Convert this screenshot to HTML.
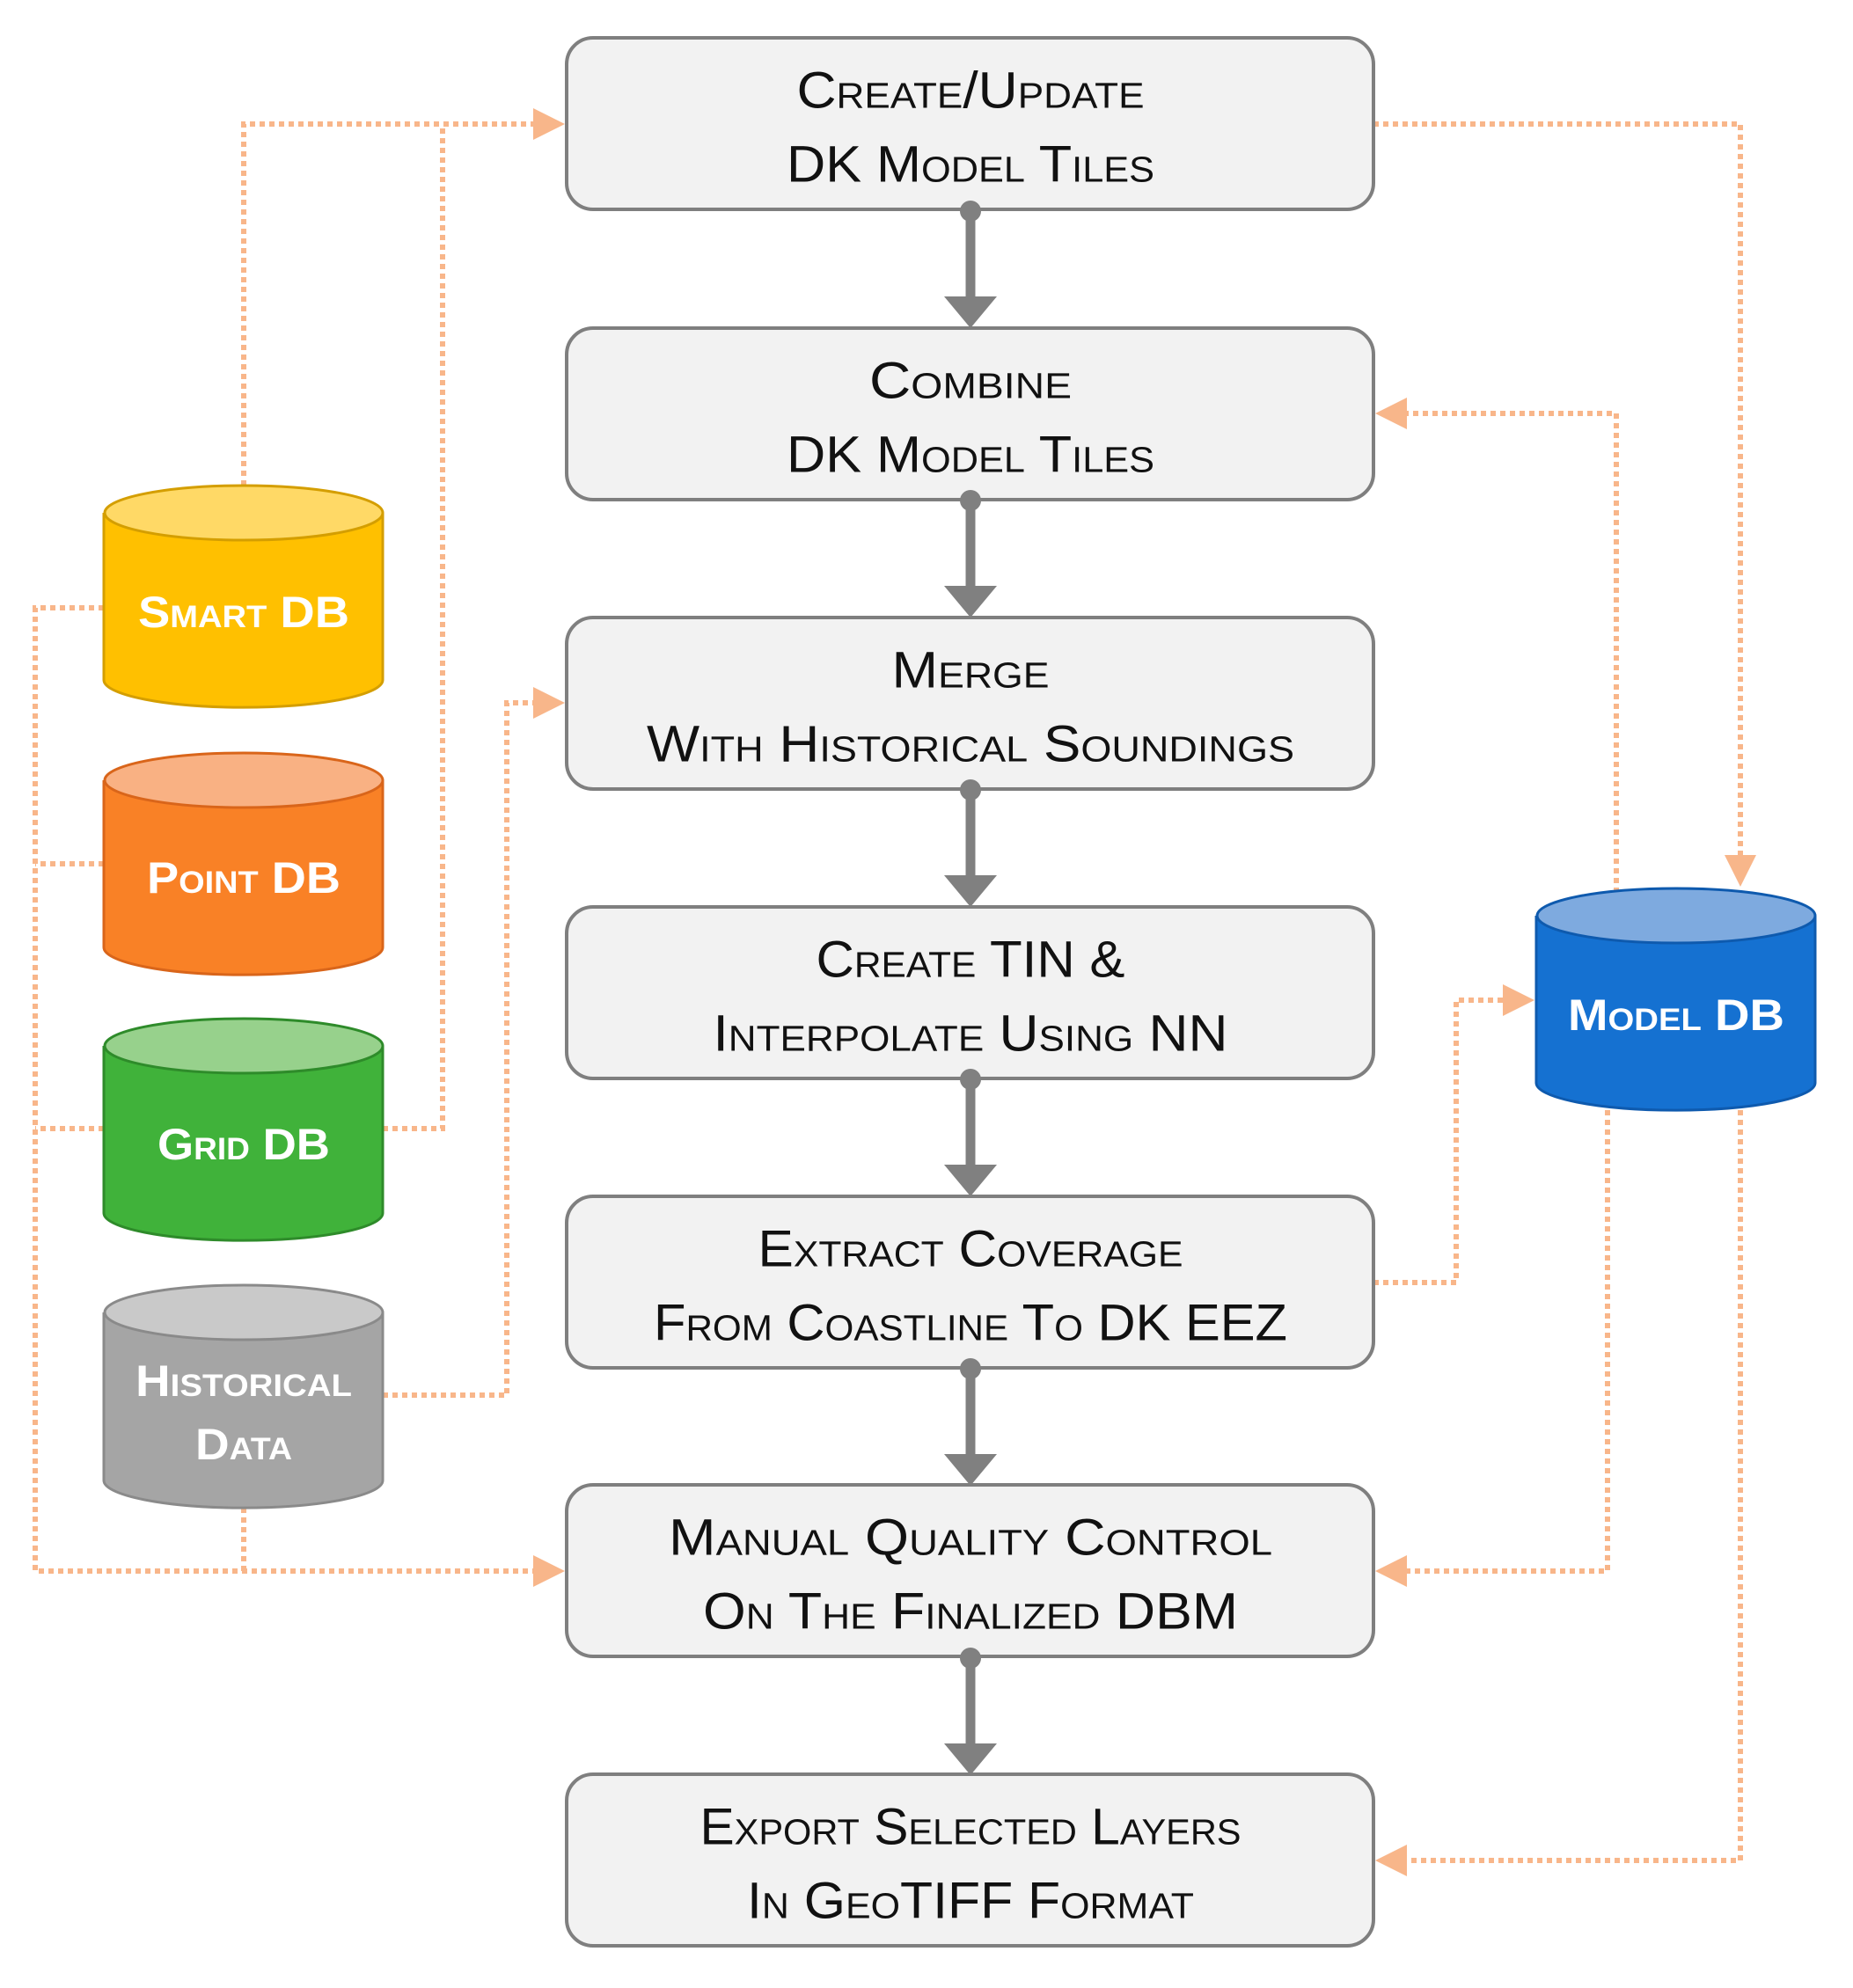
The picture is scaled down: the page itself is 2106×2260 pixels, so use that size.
<!DOCTYPE html>
<html><head><meta charset="utf-8"><style>
html,body{margin:0;padding:0;background:#fff}
svg{display:block}
.bt{font-family:"Liberation Sans",sans-serif;font-variant:small-caps;font-size:58px;fill:#111;text-anchor:middle;dominant-baseline:central}
.ct{font-family:"Liberation Sans",sans-serif;font-variant:small-caps;font-weight:bold;font-size:50px;fill:#fff;text-anchor:middle;dominant-baseline:central}
.dl{fill:none;stroke:#F8B68A;stroke-width:6;stroke-dasharray:6 5}
</style></head><body>
<svg width="2106" height="2260" viewBox="0 0 2106 2260" xmlns="http://www.w3.org/2000/svg">
<defs>
<marker id="oa" markerWidth="6" markerHeight="6" refX="5" refY="3" orient="auto" markerUnits="strokeWidth"><path d="M0,0 L6,3 L0,6 z" fill="#F8B68A"/></marker>
</defs>

<path class="dl" d="M277,552 V141 H636" marker-end="url(#oa)"/>
<path class="dl" d="M435,1283 H503 V141"/>
<path class="dl" d="M118,691 H40 V1786 H636" marker-end="url(#oa)"/>
<path class="dl" d="M118,982 H40"/>
<path class="dl" d="M118,1283 H40"/>
<path class="dl" d="M277,1714 V1786"/>
<path class="dl" d="M435,1586 H576 V799 H636" marker-end="url(#oa)"/>
<path class="dl" d="M1561,141 H1978 V1002" marker-end="url(#oa)"/>
<path class="dl" d="M1837,1015 V470 H1569" marker-end="url(#oa)"/>
<path class="dl" d="M1561,1458 H1655 V1137 H1738" marker-end="url(#oa)"/>
<path class="dl" d="M1827,1262 V1786 H1569" marker-end="url(#oa)"/>
<path class="dl" d="M1978,1262 V2115 H1569" marker-end="url(#oa)"/>

<g fill="#808080" stroke="#808080">
<g id="ga">
<line x1="1103" y1="238" x2="1103" y2="345" stroke-width="11"/>
<path d="M1073,337 L1133,337 L1103,373 z" stroke="none"/>
</g>
<use href="#ga" y="329"/><use href="#ga" y="658"/><use href="#ga" y="987"/><use href="#ga" y="1316"/><use href="#ga" y="1645"/>
</g>

<g fill="#F2F2F2" stroke="#7F7F7F" stroke-width="4">
<rect x="644" y="43" width="917" height="195" rx="30"/>
<rect x="644" y="373" width="917" height="195" rx="30"/>
<rect x="644" y="702" width="917" height="195" rx="30"/>
<rect x="644" y="1031" width="917" height="195" rx="30"/>
<rect x="644" y="1360" width="917" height="195" rx="30"/>
<rect x="644" y="1688" width="917" height="195" rx="30"/>
<rect x="644" y="2017" width="917" height="195" rx="30"/>
</g>
<g fill="#808080">
<circle cx="1103" cy="240" r="12"/><circle cx="1103" cy="569" r="12"/><circle cx="1103" cy="898" r="12"/>
<circle cx="1103" cy="1227" r="12"/><circle cx="1103" cy="1556" r="12"/><circle cx="1103" cy="1885" r="12"/>
</g>
<text class="bt" x="1103" y="103" textLength="395" lengthAdjust="spacingAndGlyphs">Create/Update</text>
<text class="bt" x="1103" y="187" textLength="418" lengthAdjust="spacingAndGlyphs">DK Model Tiles</text>
<text class="bt" x="1103" y="433" textLength="230" lengthAdjust="spacingAndGlyphs">Combine</text>
<text class="bt" x="1103" y="517" textLength="418" lengthAdjust="spacingAndGlyphs">DK Model Tiles</text>
<text class="bt" x="1103" y="762" textLength="179" lengthAdjust="spacingAndGlyphs">Merge</text>
<text class="bt" x="1103" y="846" textLength="736" lengthAdjust="spacingAndGlyphs">With Historical Soundings</text>
<text class="bt" x="1103" y="1091" textLength="351" lengthAdjust="spacingAndGlyphs">Create TIN &amp;</text>
<text class="bt" x="1103" y="1175" textLength="585" lengthAdjust="spacingAndGlyphs">Interpolate Using NN</text>
<text class="bt" x="1103" y="1420" textLength="483" lengthAdjust="spacingAndGlyphs">Extract Coverage</text>
<text class="bt" x="1103" y="1504" textLength="720" lengthAdjust="spacingAndGlyphs">From Coastline To DK EEZ</text>
<text class="bt" x="1103" y="1748" textLength="686" lengthAdjust="spacingAndGlyphs">Manual Quality Control</text>
<text class="bt" x="1103" y="1832" textLength="608" lengthAdjust="spacingAndGlyphs">On The Finalized DBM</text>
<text class="bt" x="1103" y="2077" textLength="615" lengthAdjust="spacingAndGlyphs">Export Selected Layers</text>
<text class="bt" x="1103" y="2161" textLength="508" lengthAdjust="spacingAndGlyphs">In GeoTIFF Format</text>

<g stroke-width="3">
<g stroke="#D49E00">
<path d="M118,583 V773 A158,31 0 0 0 435,773 V583" fill="#FFC000"/>
<ellipse cx="277" cy="583" rx="158" ry="31" fill="#FFD966"/>
</g>
<g stroke="#D9651A">
<path d="M118,887 V1077 A158,31 0 0 0 435,1077 V887" fill="#F98126"/>
<ellipse cx="277" cy="887" rx="158" ry="31" fill="#F9B183"/>
</g>
<g stroke="#2E8B2A">
<path d="M118,1189 V1379 A158,31 0 0 0 435,1379 V1189" fill="#40B23A"/>
<ellipse cx="277" cy="1189" rx="158" ry="31" fill="#97D18C"/>
</g>
<g stroke="#8A8A8A">
<path d="M118,1492 V1683 A158,31 0 0 0 435,1683 V1492" fill="#A5A5A5"/>
<ellipse cx="277" cy="1492" rx="158" ry="31" fill="#C9C9C9"/>
</g>
<g stroke="#0E5AAE">
<path d="M1746,1041 V1231 A158,31 0 0 0 2063,1231 V1041" fill="#1571D1"/>
<ellipse cx="1905" cy="1041" rx="158" ry="31" fill="#7EAADF"/>
</g>
</g>
<text class="ct" x="277" y="696" textLength="240" lengthAdjust="spacingAndGlyphs">Smart DB</text>
<text class="ct" x="277" y="998" textLength="220" lengthAdjust="spacingAndGlyphs">Point DB</text>
<text class="ct" x="277" y="1301" textLength="196" lengthAdjust="spacingAndGlyphs">Grid DB</text>
<text class="ct" x="277" y="1570" textLength="246" lengthAdjust="spacingAndGlyphs">Historical</text>
<text class="ct" x="277" y="1642" textLength="110" lengthAdjust="spacingAndGlyphs">Data</text>
<text class="ct" x="1905" y="1154" textLength="246" lengthAdjust="spacingAndGlyphs">Model DB</text>
</svg>
</body></html>
